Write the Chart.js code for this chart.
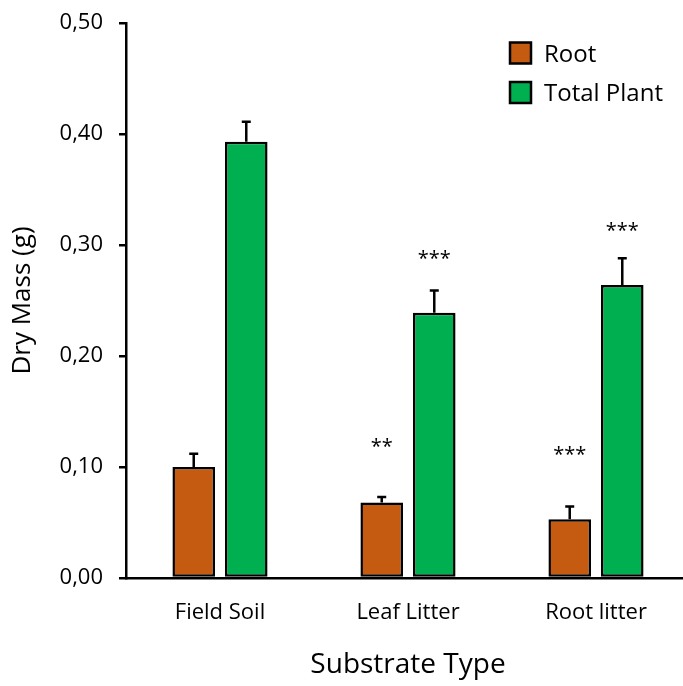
<!DOCTYPE html>
<html>
<head>
<meta charset="utf-8">
<script src="https://cdn.jsdelivr.net/npm/chart.js@4"></script>
<style>
  html, body { margin: 0; padding: 0; background: #fff; overflow: hidden; }
  #wrap { width: 690px; height: 686px; }
</style>
</head>
<body>
<div id="wrap"><canvas id="chart"></canvas></div>
<script>
const substrates = ['Field Soil', 'Leaf Litter', 'Root litter'];
const rootMass = [0.100, 0.068, 0.053];
const rootErr = [0.012, 0.005, 0.0115];
const totalMass = [0.393, 0.239, 0.264];
const totalErr = [0.018, 0.020, 0.024];
const rootSig = ['', '**', '***'];
const rootSigLevel = [0, 0.121, 0.114];
const totalSig = ['', '***', '***'];
const totalSigLevel = [0, 0.291, 0.316];

const FONT = "'Open Sans', sans-serif";

// error bars (upper only) + significance stars
const errorBars = {
  id: 'errorBars',
  afterDatasetsDraw(chart) {
    const ctx = chart.ctx;
    const y = chart.scales.y;
    chart.data.datasets.forEach((ds, i) => {
      const meta = chart.getDatasetMeta(i);
      meta.data.forEach((bar, j) => {
        const top = y.getPixelForValue(ds.data[j] + ds.errors[j]);
        ctx.save();
        ctx.strokeStyle = '#000';
        ctx.lineWidth = 2.5;
        ctx.beginPath();
        ctx.moveTo(bar.x, bar.y);
        ctx.lineTo(bar.x, top);
        ctx.moveTo(bar.x - 4.5, top);
        ctx.lineTo(bar.x + 4.5, top);
        ctx.stroke();
        if (ds.sig[j]) {
          ctx.fillStyle = '#000';
          ctx.font = '20px ' + FONT;
          ctx.textAlign = 'center';
          ctx.textBaseline = 'middle';
          ctx.fillText(ds.sig[j], bar.x, y.getPixelForValue(ds.sigLevel[j]) + 4);
        }
        ctx.restore();
      });
    });
  }
};

const boxLegend = {
  id: 'boxLegend',
  afterDraw(chart) {
    const ctx = chart.ctx;
    chart.data.datasets.forEach((ds, i) => {
      const cy = 53 + i * 39.5;
      ctx.save();
      ctx.fillStyle = ds.backgroundColor;
      ctx.strokeStyle = '#000';
      ctx.lineWidth = 2.5;
      ctx.fillRect(510, cy - 10.5, 21, 21);
      ctx.strokeRect(510, cy - 10.5, 21, 21);
      ctx.fillStyle = '#000';
      ctx.font = '24px ' + FONT;
      ctx.textAlign = 'left';
      ctx.textBaseline = 'middle';
      ctx.fillText(ds.label, 544, cy + 2);
      ctx.restore();
    });
  }
};

const config = {
  type: 'bar',
  data: {
    labels: substrates,
    datasets: [
      {
        label: 'Root',
        data: rootMass,
        errors: rootErr,
        sig: rootSig,
        sigLevel: rootSigLevel,
        backgroundColor: '#C55A11',
        borderColor: '#000',
        borderWidth: 2.5,
        borderSkipped: false
      },
      {
        label: 'Total Plant',
        data: totalMass,
        errors: totalErr,
        sig: totalSig,
        sigLevel: totalSigLevel,
        backgroundColor: '#00B050',
        borderColor: '#000',
        borderWidth: 2.5,
        borderSkipped: false
      }
    ]
  },
  options: {
    responsive: true,
    maintainAspectRatio: false,
    animation: false,
    categoryPercentage: 0.559,
    barPercentage: 0.81,
    layout: { padding: { top: 23, right: 0, left: 0, bottom: 0 } },
    plugins: {
      legend: { display: false },
      tooltip: { enabled: false }
    },
    scales: {
      x: {
        grid: { display: false, drawTicks: false },
        border: { color: '#000', width: 2.5 },
        ticks: {
          color: '#000',
          font: { family: FONT, size: 22 },
          padding: 22
        },
        title: {
          display: true,
          text: 'Substrate Type',
          color: '#000',
          font: { family: FONT, size: 28 },
          padding: { top: 14 }
        },
        afterFit: function (scale) { scale.height = 108; }
      },
      y: {
        min: 0,
        max: 0.5,
        grid: { drawOnChartArea: false, color: '#000', lineWidth: 2.5, tickLength: 7 },
        border: { color: '#000', width: 2.5 },
        ticks: {
          stepSize: 0.1,
          color: '#000',
          font: { family: FONT, size: 22 },
          padding: 16,
          callback: v => v.toFixed(2).replace('.', ',')
        },
        title: {
          display: true,
          text: 'Dry Mass (g)',
          color: '#000',
          font: { family: FONT, size: 26 },
          padding: { top: 7, bottom: 0 }
        },
        afterFit: function (scale) {
          scale.width = 126;
          scale.paddingTop = 0;
          scale.paddingBottom = 0;
        }
      }
    }
  },
  plugins: [errorBars, boxLegend]
};

const chart = new Chart(document.getElementById('chart'), config);
</script>
</body>
</html>
